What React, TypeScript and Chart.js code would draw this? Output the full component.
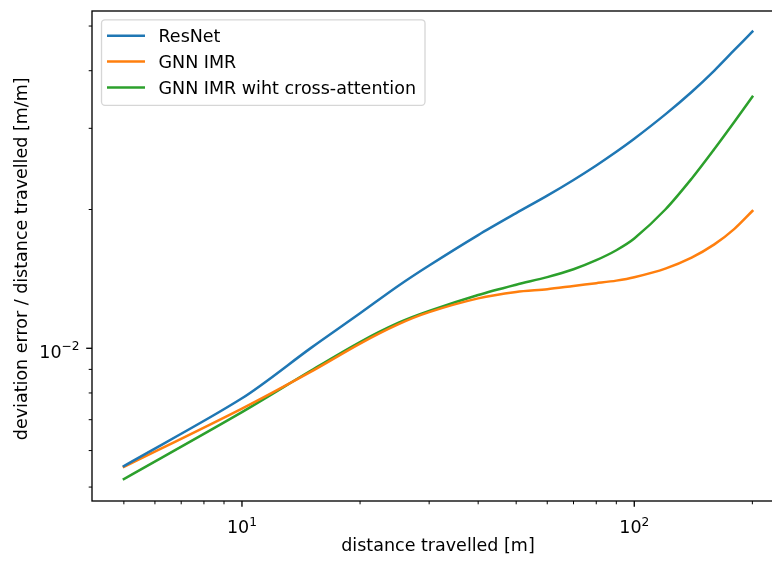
import React, { useEffect, useRef } from "react";
import { Chart, registerables } from "chart.js";

Chart.register(...registerables);

// distance travelled [m]
const distances = [5, 10, 15, 20, 25, 30, 40, 50, 60, 70, 80, 90, 100, 120, 140, 160, 180, 200];

// deviation error / distance travelled [m/m]
const resnet = [0.005555, 0.00779, 0.01002, 0.01191, 0.01365, 0.01512, 0.0176, 0.01964, 0.02143, 0.02318, 0.02492, 0.02668, 0.02847, 0.03216, 0.03597, 0.04003, 0.04437, 0.04862];
const gnnImr = [0.00553, 0.0074, 0.0089, 0.01024, 0.01127, 0.01198, 0.01283, 0.01325, 0.01343, 0.01365, 0.01384, 0.01402, 0.01426, 0.01489, 0.01573, 0.0168, 0.01816, 0.01985];
const gnnCross = [0.005205, 0.00727, 0.00895, 0.01032, 0.01135, 0.01205, 0.01305, 0.01374, 0.01427, 0.01484, 0.01553, 0.01632, 0.0173, 0.02, 0.02333, 0.02705, 0.031, 0.03512];

const seriesLabels = ["ResNet", "GNN IMR", "GNN IMR wiht cross-attention"];
const seriesColors = ["#1f77b4", "#ff7f0e", "#2ca02c"];

// axis ticks (log scales)
const xMajorTicks = [10, 100];
const xTickBases = ["10", "10"];
const xTickExponents = ["1", "2"];
const xMinorTicks = [5, 6, 7, 8, 9, 20, 30, 40, 50, 60, 70, 80, 90, 200];
const yMajorTicks = [0.01];
const yTickBases = ["10"];
const yTickExponents = ["\u22122"];
const yMinorTicks = [0.005, 0.006, 0.007, 0.008, 0.009, 0.02, 0.03, 0.04, 0.05];

const xTitle = "distance travelled [m]";
const yTitle = "deviation error / distance travelled [m/m]";

const FONT = '"DejaVu Sans", "Liberation Sans", sans-serif';
const MAIN = `17.5px ${FONT}`;
const SUP = `12.2px ${FONT}`;

const axesDecor = {
  id: "axesDecor",
  afterDraw(chart: any) {
    const { ctx, chartArea: a, scales } = chart;
    const xs = scales.x;
    const ys = scales.y;
    ctx.save();

    // ticks
    const seg = (x1: number, y1: number, x2: number, y2: number, w: number) => {
      ctx.beginPath();
      ctx.lineWidth = w;
      ctx.strokeStyle = "#000";
      ctx.moveTo(x1, y1);
      ctx.lineTo(x2, y2);
      ctx.stroke();
    };
    xMajorTicks.forEach((v) => {
      const p = xs.getPixelForValue(v);
      seg(p, a.bottom, p, a.bottom + 5.8, 1.33);
    });
    xMinorTicks.forEach((v) => {
      const p = xs.getPixelForValue(v);
      seg(p, a.bottom, p, a.bottom + 3.3, 1);
    });
    yMajorTicks.forEach((v) => {
      const p = ys.getPixelForValue(v);
      seg(a.left, p, a.left - 5.8, p, 1.33);
    });
    yMinorTicks.forEach((v) => {
      const p = ys.getPixelForValue(v);
      seg(a.left, p, a.left - 3.3, p, 1);
    });

    // frame
    ctx.lineWidth = 1.33;
    ctx.strokeStyle = "#000";
    ctx.strokeRect(a.left, a.top, a.right - a.left, a.bottom - a.top);

    // tick labels
    ctx.fillStyle = "#000";
    ctx.textBaseline = "alphabetic";
    xMajorTicks.forEach((v, i) => {
      const p = xs.getPixelForValue(v);
      ctx.font = MAIN;
      const wb = ctx.measureText(xTickBases[i]).width;
      ctx.font = SUP;
      const we = ctx.measureText(xTickExponents[i]).width;
      const left = p - (wb + we) / 2;
      ctx.textAlign = "left";
      ctx.font = MAIN;
      ctx.fillText(xTickBases[i], left, a.bottom + 32.4);
      ctx.font = SUP;
      ctx.fillText(xTickExponents[i], left + wb, a.bottom + 24.9);
    });
    yMajorTicks.forEach((v, i) => {
      const p = ys.getPixelForValue(v);
      const right = a.left - 12.5;
      ctx.textAlign = "right";
      ctx.font = SUP;
      const we = ctx.measureText(yTickExponents[i]).width;
      ctx.fillText(yTickExponents[i], right, p + 2);
      ctx.font = MAIN;
      ctx.fillText(yTickBases[i], right - we, p + 9.9);
    });

    // axis titles
    ctx.font = MAIN;
    ctx.textAlign = "center";
    ctx.fillText(xTitle, (a.left + a.right) / 2, a.bottom + 50.3);
    ctx.save();
    ctx.translate(26.8, 258.8);
    ctx.rotate(-Math.PI / 2);
    ctx.fillText(yTitle, 0, 0);
    ctx.restore();

    // legend
    const bx = a.left + 9.5;
    const by = a.top + 8.8;
    const bw = 323.5;
    const bh = 85.5;
    const r = 3.5;
    ctx.beginPath();
    ctx.moveTo(bx + r, by);
    ctx.lineTo(bx + bw - r, by);
    ctx.arcTo(bx + bw, by, bx + bw, by + r, r);
    ctx.lineTo(bx + bw, by + bh - r);
    ctx.arcTo(bx + bw, by + bh, bx + bw - r, by + bh, r);
    ctx.lineTo(bx + r, by + bh);
    ctx.arcTo(bx, by + bh, bx, by + bh - r, r);
    ctx.lineTo(bx, by + r);
    ctx.arcTo(bx, by, bx + r, by, r);
    ctx.closePath();
    ctx.fillStyle = "rgba(255,255,255,0.8)";
    ctx.fill();
    ctx.lineWidth = 1.3;
    ctx.strokeStyle = "rgba(204,204,204,0.8)";
    ctx.stroke();

    chart.data.datasets.forEach((ds: any, i: number) => {
      const rowY = by + 16 + i * 25.8;
      ctx.beginPath();
      ctx.lineWidth = 2.5;
      ctx.strokeStyle = ds.borderColor;
      ctx.lineCap = "butt";
      ctx.moveTo(bx + 5.5, rowY);
      ctx.lineTo(bx + 43.5, rowY);
      ctx.stroke();
      ctx.fillStyle = "#000";
      ctx.font = MAIN;
      ctx.textAlign = "left";
      ctx.fillText(ds.label, bx + 57, rowY + 6.5);
    });

    ctx.restore();
  },
};

export default function App() {
  const canvasRef = useRef<HTMLCanvasElement | null>(null);

  useEffect(() => {
    const canvas = canvasRef.current;
    if (!canvas) return;
    const series = [resnet, gnnImr, gnnCross];
    const chart = new Chart(canvas, {
      type: "line",
      data: {
        datasets: series.map((vals, i) => ({
          label: seriesLabels[i],
          data: distances.map((d, j) => ({ x: d, y: vals[j] })),
          borderColor: seriesColors[i],
          backgroundColor: seriesColors[i],
          borderWidth: 2.5,
          pointRadius: 0,
          fill: false,
          tension: 0.3,
          borderJoinStyle: "round" as const,
          borderCapStyle: "square" as const,
        })),
      },
      options: {
        animation: false,
        responsive: false,
        devicePixelRatio: 1,
        layout: { padding: { left: 92, top: 11, right: 16, bottom: 64 } },
        plugins: {
          legend: { display: false },
          tooltip: { enabled: false },
        },
        scales: {
          x: {
            type: "logarithmic",
            display: false,
            bounds: "data",
            min: 4.147,
            max: 240.8,
          },
          y: {
            type: "logarithmic",
            display: false,
            bounds: "data",
            min: 0.004664,
            max: 0.0539,
          },
        },
      },
      plugins: [axesDecor],
    });
    return () => chart.destroy();
  }, []);

  return (
    <div
      style={{
        position: "fixed",
        left: 0,
        top: 0,
        width: 772,
        height: 565,
        overflow: "hidden",
        background: "#fff",
      }}
    >
      <canvas
        ref={canvasRef}
        width={800}
        height={565}
        style={{ display: "block", width: 800, height: 565 }}
      />
    </div>
  );
}
